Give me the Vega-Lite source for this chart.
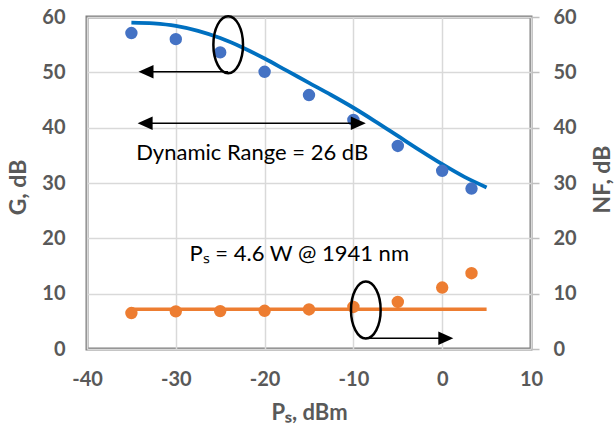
{
  "$schema": "https://vega.github.io/schema/vega-lite/v6.json",
  "width": 444,
  "height": 332,
  "autosize": {"type": "none"},
  "padding": {"left": 87, "top": 17, "right": 83, "bottom": 76},
  "background": "white",
  "config": {
    "font": "Lato",
    "view": {"stroke": "#7f7f7f", "strokeWidth": 3},
    "axis": {
      "labelFont": "Lato", "labelFontSize": 20, "labelFontWeight": "bold", "labelColor": "#595959",
      "titleFont": "Lato", "titleFontSize": 22, "titleFontWeight": "bold", "titleColor": "#595959",
      "gridColor": "#d9d9d9", "gridWidth": 1.5, "domain": false, "ticks": false
    }
  },
  "datasets": {
    "meas": [
      {"ps": -35, "g": 57.1, "nf": 6.5},
      {"ps": -30, "g": 56.0, "nf": 6.8},
      {"ps": -25, "g": 53.6, "nf": 6.85},
      {"ps": -20, "g": 50.1, "nf": 6.9},
      {"ps": -15, "g": 45.9, "nf": 7.15},
      {"ps": -10, "g": 41.4, "nf": 7.6},
      {"ps": -5, "g": 36.7, "nf": 8.5},
      {"ps": 0, "g": 32.2, "nf": 11.1},
      {"ps": 3.3, "g": 29.0, "nf": 13.7}
    ],
    "gfit": [
      {"ps": -35, "g": 59.0}, {"ps": -32.5, "g": 58.85}, {"ps": -30, "g": 58.4},
      {"ps": -27.5, "g": 57.5}, {"ps": -25, "g": 56.2}, {"ps": -22.5, "g": 54.5},
      {"ps": -20, "g": 52.5}, {"ps": -17.5, "g": 50.3}, {"ps": -15, "g": 48.1},
      {"ps": -12.5, "g": 45.9}, {"ps": -10, "g": 43.6}, {"ps": -7.5, "g": 41.1},
      {"ps": -5, "g": 38.5}, {"ps": -2.5, "g": 35.9}, {"ps": 0, "g": 33.4},
      {"ps": 2.5, "g": 31.1}, {"ps": 5, "g": 29.2}
    ],
    "nffit": [{"ps": -35, "nf": 7.17}, {"ps": 5, "nf": 7.17}],
    "ellipses": [{"ps": -24.1, "y": 55.0}, {"ps": -8.6, "y": 7.05}],
    "arrows": [
      {"ps": -24.1, "ps2": -33.0, "y": 50.1},
      {"ps": -33.0, "ps2": -9.9, "y": 40.8},
      {"ps": -8.6, "ps2": 0.0, "y": 1.93}
    ],
    "heads": [
      {"ps": -34.2, "y": 50.1, "dir": "left"},
      {"ps": -34.3, "y": 40.8, "dir": "left"},
      {"ps": -8.6, "y": 40.8, "dir": "right"},
      {"ps": 1.25, "y": 1.93, "dir": "right"}
    ],
    "notes": [
      {"ps": -21.4, "y": 35.4, "label": "Dynamic Range = 26 dB"},
      {"ps": -16.1, "y": 17.2, "label": "Pₛ = 4.6 W @ 1941 nm"}
    ]
  },
  "encoding": {
    "x": {
      "field": "ps", "type": "quantitative",
      "scale": {"domain": [-40, 10], "nice": false},
      "axis": {"values": [-40, -30, -20, -10, 0, 10], "labelFlush": false, "labelExpr": "datum.value < 0 ? '-' + abs(datum.value) : '' + datum.value", "labelPadding": 20, "title": "Pₛ, dBm", "titleY": 53, "titleBaseline": "top", "grid": true}
    }
  },
  "layer": [
    {
      "layer": [
        {
          "data": {"name": "gfit"},
          "mark": {"type": "line", "color": "#0070C0", "strokeWidth": 3.8, "interpolate": "monotone"},
          "encoding": {"y": {"field": "g", "type": "quantitative"}}
        },
        {
          "data": {"name": "meas"},
          "mark": {"type": "point", "filled": true, "opacity": 1, "color": "#4472C4", "size": 154, "strokeWidth": 0},
          "encoding": {"y": {"field": "g", "type": "quantitative"}}
        }
      ],
      "encoding": {
        "y": {
          "field": "g", "type": "quantitative",
          "scale": {"domain": [0, 60], "nice": false},
          "axis": {"orient": "left", "values": [0, 10, 20, 30, 40, 50, 60], "labelPadding": 22, "grid": true, "title": "G, dB", "titleFontSize": 23, "titleAngle": 270, "titleX": -69, "titleY": 170, "titleAlign": "center", "titleBaseline": "middle"}
        }
      }
    },
    {
      "layer": [
        {
          "data": {"name": "nffit"},
          "mark": {"type": "line", "color": "#ED7D31", "strokeWidth": 3.5},
          "encoding": {"y": {"field": "nf", "type": "quantitative"}}
        },
        {
          "data": {"name": "meas"},
          "mark": {"type": "point", "filled": true, "opacity": 1, "color": "#ED7D31", "size": 154, "strokeWidth": 0},
          "encoding": {"y": {"field": "nf", "type": "quantitative"}}
        }
      ],
      "encoding": {
        "y": {
          "field": "nf", "type": "quantitative",
          "scale": {"domain": [0, 60], "nice": false},
          "axis": {"orient": "right", "values": [0, 10, 20, 30, 40, 50, 60], "ticks": true, "tickColor": "#bfbfbf", "tickSize": 8, "tickWidth": 1.5, "labelPadding": 14, "grid": false, "title": "NF, dB", "titleFontSize": 23, "titleAngle": 270, "titleX": 71, "titleY": 162, "titleAlign": "center", "titleBaseline": "middle"}
        }
      }
    },
    {
      "layer": [
        {
          "mark": {"type": "rule", "color": "black", "strokeWidth": 3.5},
          "encoding": {"x": {"datum": -40}, "x2": {"datum": 10}, "y": {"datum": 60}}
        },
        {
          "data": {"name": "arrows"},
          "mark": {"type": "rule", "color": "black", "strokeWidth": 1.5},
          "encoding": {"x2": {"field": "ps2"}, "y": {"field": "y", "type": "quantitative"}}
        },
        {
          "data": {"name": "heads"},
          "mark": {"type": "point", "filled": true, "opacity": 1, "color": "black", "size": 225, "strokeWidth": 0},
          "encoding": {
            "y": {"field": "y", "type": "quantitative"},
            "shape": {"field": "dir", "type": "nominal", "legend": null,
              "scale": {"domain": ["left", "right"], "range": ["M0,0L2,-0.9L2,0.9Z", "M0,0L-2,-0.9L-2,0.9Z"]}}
          }
        },
        {
          "data": {"name": "ellipses"},
          "mark": {"type": "point", "filled": false, "opacity": 1, "color": "black", "strokeWidth": 2.5, "size": 3249,
            "shape": "M0,-1C0.287,-1 0.52,-0.552 0.52,0C0.52,0.552 0.287,1 0,1C-0.287,1 -0.52,0.552 -0.52,0C-0.52,-0.552 -0.287,-1 0,-1Z"},
          "encoding": {"y": {"field": "y", "type": "quantitative"}}
        },
        {
          "data": {"name": "notes"},
          "mark": {"type": "text", "font": "Lato", "fontSize": 22, "color": "black", "align": "center", "baseline": "middle"},
          "encoding": {"y": {"field": "y", "type": "quantitative"}, "text": {"field": "label"}}
        }
      ],
      "encoding": {
        "y": {"field": "y", "type": "quantitative", "scale": {"domain": [0, 60], "nice": false}, "axis": null}
      }
    }
  ],
  "resolve": {"scale": {"y": "independent"}}
}
